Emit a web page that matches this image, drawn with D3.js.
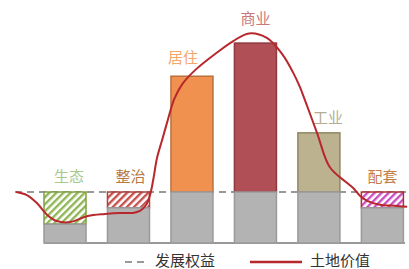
<!DOCTYPE html>
<html>
<head>
<meta charset="utf-8">
<script src="https://cdn.jsdelivr.net/npm/d3@7"></script>
<style>
body { margin: 0; background: #fff; }
text { font-family: "Noto Sans CJK SC", "Noto Sans", sans-serif; }
</style>
</head>
<body>
<script>
// categories and values (dashed line = 10)
var categories = ["生态", "整治", "居住", "商业", "工业", "配套"];
var rights     = [3.7, 6.9, 10, 10, 10, 6.9];      // 发展权益 (gray)
var totals     = [10, 10, 32.7, 39.2, 21.6, 10];    // top of each bar
var baseLevel  = 10;

// 土地价值 curve, x in category units (0 = centre of first bar)
var curveX = [-0.77, -0.60, -0.44, -0.28, -0.13, 0.08, 0.36, 0.63, 0.87, 1.07, 1.18, 1.28, 1.34, 1.39,
              1.45, 1.53, 1.61, 1.72, 1.85, 2.05, 2.39, 2.65, 2.90, 3.18, 3.43, 3.59, 3.70, 3.78,
              3.97, 4.17, 4.44, 4.54, 4.65, 4.77, 4.96, 5.20, 5.39];
var curveY = [10, 9.4, 7.8, 5.5, 4.3, 4.1, 5.3, 5.7, 5.9, 5.9, 6.3, 7.5, 9.4, 12.4,
              16.7, 20.2, 23.7, 28.2, 31.2, 33.9, 37.3, 39.6, 41.1, 40.2, 36.9, 33.5, 30.6, 28.0,
              21.6, 14.9, 11.8, 10.8, 9.2, 8.2, 7.5, 7.3, 7.1];

var legendLabels = ["发展权益", "土地价值"];

// styles
var fills   = ["url(#hatchGreen)", "url(#hatchRed)", "#f0914f", "#b04f55", "#bcb290", "url(#hatchPink)"];
var strokes = ["#7fa046", "#a8423f", "#b8723f", "#8e3a3f", "#8f8762", "#a83232"];
var labelColors = ["#a9c88c", "#b8773f", "#f4a66b", "#c8777a", "#b5ad93", "#c47d48"];
var labelNudge  = [[4, 0], [2, 0], [-9, -3], [0, -9], [9, 0], [0, 0]];

var width = 409, height = 269;

var svg = d3.select("body").append("svg")
	.attr("width", width)
	.attr("height", height);

var defs = svg.append("defs");
function hatch(id, color) {
	var p = defs.append("pattern")
		.attr("id", id)
		.attr("patternUnits", "userSpaceOnUse")
		.attr("width", 5).attr("height", 5)
		.attr("patternTransform", "rotate(45)");
	p.append("rect").attr("width", 5).attr("height", 5).attr("fill", "#fff");
	p.append("rect").attr("width", 2.4).attr("height", 5).attr("fill", color);
}
hatch("hatchGreen", "#8fb554");
hatch("hatchRed", "#c4514e");
hatch("hatchPink", "#c94fc0");

var x = d3.scaleBand()
	.domain(categories)
	.range([44, 403.4])
	.paddingInner(0.338)
	.paddingOuter(0);

var xc = d3.scaleLinear()
	.domain([0, categories.length - 1])
	.range([x(categories[0]) + x.bandwidth() / 2, x(categories[categories.length - 1]) + x.bandwidth() / 2]);

var y = d3.scaleLinear().domain([0, 10]).range([243, 192]);

// dashed reference line
svg.append("line")
	.attr("x1", 15).attr("x2", 406)
	.attr("y1", y(baseLevel)).attr("y2", y(baseLevel))
	.attr("stroke", "#999").attr("stroke-width", 2)
	.attr("stroke-dasharray", "7,5");

// bottom axis line
svg.append("line")
	.attr("x1", 44).attr("x2", 405)
	.attr("y1", y(0)).attr("y2", y(0))
	.attr("stroke", "#999").attr("stroke-width", 2);

// upper parts
svg.selectAll(".upper")
	.data(categories).enter().append("rect")
		.attr("class", "upper")
		.attr("x", function (d) { return x(d); })
		.attr("width", x.bandwidth())
		.attr("y", function (d, i) { return y(totals[i]); })
		.attr("height", function (d, i) { return y(rights[i]) - y(totals[i]); })
		.attr("fill", function (d, i) { return fills[i]; })
		.attr("stroke", function (d, i) { return strokes[i]; })
		.attr("stroke-width", 1.5);

// gray development rights
svg.selectAll(".rights")
	.data(categories).enter().append("rect")
		.attr("class", "rights")
		.attr("x", function (d) { return x(d); })
		.attr("width", x.bandwidth())
		.attr("y", function (d, i) { return y(rights[i]); })
		.attr("height", function (d, i) { return y(0) - y(rights[i]); })
		.attr("fill", "#b3b3b3")
		.attr("stroke", "#9a9a9a")
		.attr("stroke-width", 1.5);

// category labels
svg.selectAll(".label")
	.data(categories).enter().append("text")
		.attr("class", "label")
		.attr("x", function (d, i) { return x(d) + x.bandwidth() / 2 + labelNudge[i][0]; })
		.attr("y", function (d, i) { return y(totals[i]) - 10 + labelNudge[i][1]; })
		.attr("text-anchor", "middle")
		.attr("font-size", 15)
		.attr("fill", function (d, i) { return labelColors[i]; })
		.text(function (d) { return d; });

// land value curve
var line = d3.line()
	.x(function (d) { return xc(d); })
	.y(function (d, i) { return y(curveY[i]); })
	.curve(d3.curveCatmullRom.alpha(0.5));

svg.append("path")
	.attr("d", line(curveX))
	.attr("fill", "none")
	.attr("stroke", "#b8272c")
	.attr("stroke-width", 2);

// legend
var ly = 262;
svg.append("line")
	.attr("x1", 125).attr("x2", 148).attr("y1", ly).attr("y2", ly)
	.attr("stroke", "#999").attr("stroke-width", 2)
	.attr("stroke-dasharray", "7,5");
svg.append("text")
	.attr("x", 155).attr("y", ly + 4)
	.attr("font-size", 15).attr("fill", "#333")
	.text(legendLabels[0]);
svg.append("line")
	.attr("x1", 250).attr("x2", 302).attr("y1", ly).attr("y2", ly)
	.attr("stroke", "#b8272c").attr("stroke-width", 2.5);
svg.append("text")
	.attr("x", 310).attr("y", ly + 4)
	.attr("font-size", 15).attr("fill", "#333")
	.text(legendLabels[1]);
</script>
</body>
</html>
